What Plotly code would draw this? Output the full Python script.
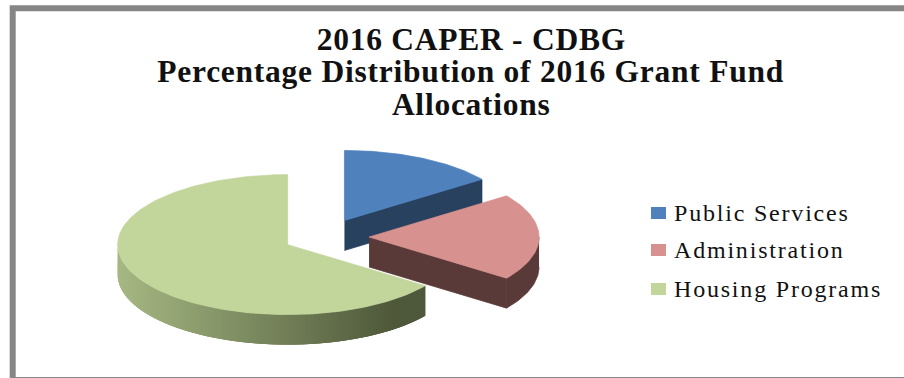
import numpy as np
import plotly.graph_objects as go

# Data
categories = ["Public Services", "Administration", "Housing Programs"]
values = [15, 20, 65]
explode = [0.265, 0.265, 0.24]
title_lines = ["2016 CAPER - CDBG", "Percentage Distribution of 2016 Grant Fund", "Allocations"]

# Styles
top_colors = ["#4f81bd", "#d7918e", "#c2d59b"]
side_colors = ["#27415f", "#5a3939", None]
rim_light = np.array([166, 184, 131])
rim_dark = np.array([78, 88, 58])
FONT = "Liberation Serif"

# Pie geometry in the hidden pixel-like axes
CX, CY = 324, 237
RX, RY = 170, 70
DEPTH = 30


def ellipse(theta_deg, cx, cy):
    t = np.radians(theta_deg)
    return cx + RX * np.sin(t), cy - RY * np.cos(t)


fig = go.Figure()


def poly(xs, ys, color, lw=0.7):
    fig.add_trace(go.Scatter(
        x=list(xs), y=list(ys), mode="lines", fill="toself", fillcolor=color,
        line=dict(color=color, width=lw), hoverinfo="skip", showlegend=False,
    ))


edges = np.concatenate([[0], np.cumsum(values)]) * 3.6
centers = []
for i, v in enumerate(values):
    mid = np.radians((edges[i] + edges[i + 1]) / 2)
    centers.append((CX + explode[i] * RX * np.sin(mid), CY - explode[i] * RY * np.cos(mid)))

# Public Services: side cut, top
cx, cy = centers[0]
ex, ey = ellipse(edges[1], cx, cy)
poly([cx, ex, ex, cx], [cy, ey, ey + DEPTH, cy + DEPTH], side_colors[0])
th = np.linspace(edges[0], edges[1], 60)
px, py = ellipse(th, cx, cy)
poly(np.r_[cx, px, cx], np.r_[cy, py, cy], top_colors[0])

# Administration: cut face, rim, top
cx, cy = centers[1]
ex, ey = ellipse(edges[2], cx, cy)
poly([cx, ex, ex, cx], [cy, ey, ey + DEPTH, cy + DEPTH], side_colors[1])
th = np.linspace(90, edges[2], 30)
px, py = ellipse(th, cx, cy)
poly(np.r_[px, px[::-1]], np.r_[py, py[::-1] + DEPTH], side_colors[1])
th = np.linspace(edges[1], edges[2], 60)
px, py = ellipse(th, cx, cy)
poly(np.r_[cx, px, cx], np.r_[cy, py, cy], top_colors[1])

# Housing Programs: shaded rim built of overlapping strips, then top
cx, cy = centers[2]
x_end = ellipse(edges[2], cx, cy)[0]
steps = np.linspace(270, edges[2], 97)
for k in range(len(steps) - 1):
    a = steps[k]
    b = steps[min(k + 3, len(steps) - 1)]
    th = np.linspace(a, b, 5)
    px, py = ellipse(th, cx, cy)
    frac = min(((ellipse(steps[k], cx, cy)[0] - (cx - RX)) / (x_end - (cx - RX))) / 0.9, 1)
    c = (rim_light + (rim_dark - rim_light) * frac).astype(int)
    poly(np.r_[px, px[::-1]], np.r_[py, py[::-1] + DEPTH], f"rgb({c[0]},{c[1]},{c[2]})", lw=0)
th = np.linspace(edges[2], edges[3], 160)
px, py = ellipse(th, cx, cy)
poly(np.r_[cx, px, cx], np.r_[cy, py, cy], top_colors[2])

# Legend labels as real text, swatches as shapes
legend_y = [215, 252, 291]
fig.add_trace(go.Scatter(
    x=[674] * 3, y=legend_y, mode="text", text=categories, textposition="middle right",
    textfont=dict(family=FONT, size=24, color="#111111"), hoverinfo="skip", showlegend=False,
))
shapes = [dict(type="rect", xref="x", yref="y", x0=12.7, y0=8.3, x1=912, y1=380,
               line=dict(color="#868686", width=6), fillcolor="rgba(0,0,0,0)", layer="below")]
for yy, col in zip(legend_y, top_colors):
    shapes.append(dict(type="rect", xref="x", yref="y", x0=651, x1=666, y0=yy - 8, y1=yy + 4,
                       line=dict(width=0), fillcolor=col))

title_y = [39, 71, 104]
annotations = [dict(x=471, y=yy, xref="x", yref="y", text=f"<b>{t}</b>", showarrow=False,
                    font=dict(family=FONT, size=31.5, color="#111111"))
               for t, yy in zip(title_lines, title_y)]

fig.update_layout(
    width=904, height=378, margin=dict(l=0, r=0, t=0, b=0),
    paper_bgcolor="white", plot_bgcolor="white", showlegend=False,
    shapes=shapes, annotations=annotations,
    xaxis=dict(range=[0, 904], visible=False, fixedrange=True),
    yaxis=dict(range=[378, 0], visible=False, fixedrange=True),
)
fig.write_html("out.html", config={"displayModeBar": False},
               post_script="document.body.style.margin='0';document.body.style.overflow='hidden';"
                           "document.querySelectorAll('.textpoint text').forEach(function(t){t.style.letterSpacing='1.8px';});"
                           "document.querySelectorAll('.annotation-text').forEach(function(t){t.style.letterSpacing='0.75px';});")
